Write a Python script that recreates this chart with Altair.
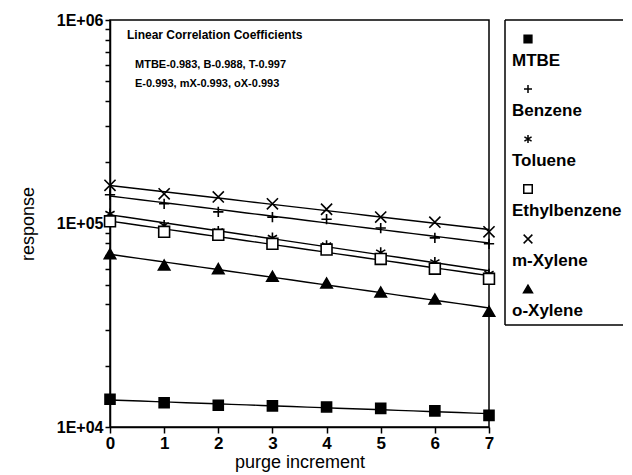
import altair as alt
import pandas as pd

# ---- data ----
increments = [0, 1, 2, 3, 4, 5, 6, 7]
series_names = ["MTBE", "Benzene", "Toluene", "Ethylbenzene", "m-Xylene", "o-Xylene"]
mtbe = [13700, 13150, 12800, 12700, 12550, 12350, 12000, 11400]
benzene = [138500, 125000, 114000, 107500, 105000, 95000, 85000, 79500]
toluene = [111500, 98000, 91500, 85000, 78000, 72000, 64500, 56500]
ethylbenzene = [102500, 91000, 88000, 79500, 74500, 67000, 60000, 53500]
m_xylene = [154000, 140000, 135000, 125000, 117500, 107500, 101500, 91000]
o_xylene = [71000, 62500, 60000, 55000, 51000, 46000, 42500, 37000]
annotation_lines = [
    "Linear Correlation Coefficients",
    "MTBE-0.983, B-0.988, T-0.997",
    "E-0.993, mX-0.993, oX-0.993",
]
y_ticks = [1e4, 2e4, 3e4, 4e4, 5e4, 6e4, 7e4, 8e4, 9e4,
           1e5, 2e5, 3e5, 4e5, 5e5, 6e5, 7e5, 8e5, 9e5, 1e6]

values = [mtbe, benzene, toluene, ethylbenzene, m_xylene, o_xylene]
rows = []
for name, vals in zip(series_names, values):
    for xv, yv in zip(increments, vals):
        rows.append({"x": xv, "value": yv, "series": name})
df = pd.DataFrame(rows)

FONT = "Liberation Sans"
shapes = ["square",
          "M-1,0L1,0M0,-1L0,1",
          "M0,-1L0,1M-0.87,-0.5L0.87,0.5M-0.87,0.5L0.87,-0.5",
          "square",
          "M-1,-1L1,1M-1,1L1,-1",
          "triangle-up"]
fills = ["black", "transparent", "transparent", "white", "transparent", "black"]
sizes = [100, 130, 150, 110, 160, 130]
legend_sizes = [60, 80, 80, 70, 80, 120]

xenc = alt.X("x:Q", scale=alt.Scale(domain=[0, 7], nice=False),
             axis=alt.Axis(values=increments, title="purge increment", grid=False,
                           labelFlush=False, tickSize=6, labelPadding=2,
                           labelFontSize=17, labelFontWeight="bold",
                           titleFontSize=18, titleFontWeight="normal", titlePadding=2))
yenc = alt.Y("value:Q", scale=alt.Scale(type="log", domain=[1e4, 1e6], nice=False),
             axis=alt.Axis(values=y_ticks, title="response", grid=False,
                           labelExpr="datum.value == 10000 ? '1E+04' : datum.value == 100000 ? '1E+05' : datum.value == 1000000 ? '1E+06' : ''",
                           labelOverlap=False, tickSize=5, labelPadding=2,
                           labelFontSize=16, labelFontWeight="bold",
                           titleFontSize=18, titleFontWeight="normal", titlePadding=19))

base = alt.Chart(df)
lines = base.transform_regression(
    "x", "value", groupby=["series"], method="exp", extent=[0, 7]
).mark_line(color="black", strokeWidth=1.4).encode(x=xenc, y=yenc, detail="series:N")

points = base.mark_point(opacity=1, strokeWidth=1.6).encode(
    x=xenc, y=yenc,
    shape=alt.Shape("series:N", scale=alt.Scale(domain=series_names, range=shapes), legend=None),
    fill=alt.Fill("series:N", scale=alt.Scale(domain=series_names, range=fills), legend=None),
    size=alt.Size("series:N", scale=alt.Scale(domain=series_names, range=sizes), legend=None),
    stroke=alt.value("black"),
)

one = pd.DataFrame({"k": [0]})
ann1 = alt.Chart(one).mark_text(align="left", baseline="middle", font=FONT,
                                fontSize=12, fontWeight="bold", text=annotation_lines[0]
                                ).encode(x=alt.value(17), y=alt.value(15))
ann2 = alt.Chart(one).mark_text(align="left", baseline="middle", font=FONT,
                                fontSize=11, fontWeight="bold", text=annotation_lines[1]
                                ).encode(x=alt.value(25), y=alt.value(45))
ann3 = alt.Chart(one).mark_text(align="left", baseline="middle", font=FONT,
                                fontSize=11, fontWeight="bold", text=annotation_lines[2]
                                ).encode(x=alt.value(25), y=alt.value(64))

main = alt.layer(lines, points, ann1, ann2, ann3).properties(
    width=379, height=407,
    view=alt.ViewConfig(stroke="black", strokeWidth=1.5),
)

# ---- legend panel (symbol above label) ----
LW, LH = 118, 305
leg_df = pd.DataFrame({"entry": series_names})
leg_y = alt.Y("entry:N", sort=series_names, axis=None,
              scale=alt.Scale(type="point", domain=series_names, range=[19, 269], padding=0))
leg_sym = alt.Chart(leg_df).mark_point(opacity=1, strokeWidth=1.5).encode(
    x=alt.value(23), y=leg_y,
    shape=alt.Shape("entry:N", scale=alt.Scale(domain=series_names, range=shapes), legend=None),
    fill=alt.Fill("entry:N", scale=alt.Scale(domain=series_names, range=fills), legend=None),
    size=alt.Size("entry:N", scale=alt.Scale(domain=series_names, range=legend_sizes), legend=None),
    stroke=alt.value("black"),
)
leg_txt = alt.Chart(leg_df).mark_text(align="left", baseline="middle", dy=22,
                                      font=FONT, fontSize=17, fontWeight="bold",
                                      color="black").encode(
    x=alt.value(7), y=leg_y, text="entry:N")
b_left = alt.Chart(one).mark_rule(color="black", strokeWidth=1.5).encode(
    x=alt.value(0), y=alt.value(0), y2=alt.value(LH))
b_top = alt.Chart(one).mark_rule(color="black", strokeWidth=1.5).encode(
    x=alt.value(0), x2=alt.value(LW), y=alt.value(0))
b_bot = alt.Chart(one).mark_rule(color="black", strokeWidth=1.5).encode(
    x=alt.value(0), x2=alt.value(LW), y=alt.value(LH))

legend = alt.layer(b_left, b_top, b_bot, leg_sym, leg_txt).properties(
    width=LW, height=LH, view=alt.ViewConfig(stroke=None))

chart = alt.hconcat(main, legend, spacing=16, bounds="flush").properties(
    padding={"left": 10, "top": 3, "right": 0, "bottom": 0},
).resolve_scale(y="independent", shape="independent", fill="independent",
                size="independent").configure(font=FONT).configure_axis(
    domainColor="black", tickColor="black", labelColor="black", titleColor="black",
    domainWidth=1.5, tickWidth=1.5, labelFont=FONT, titleFont=FONT,
).configure_view(stroke=None)

chart.save("out.html", embed_options={"renderer": "svg", "actions": False})
